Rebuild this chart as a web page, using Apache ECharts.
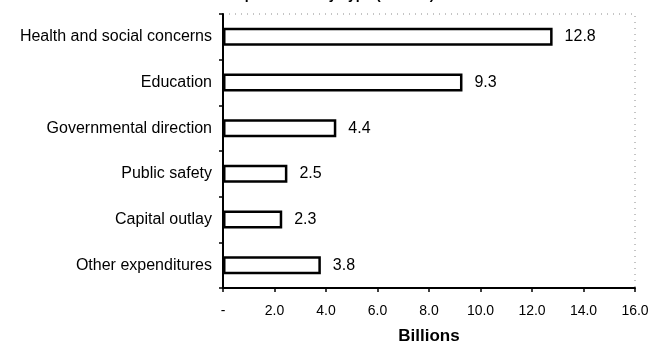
<!DOCTYPE html>
<html>
<head>
<meta charset="utf-8">
<script src="https://cdn.jsdelivr.net/npm/echarts@6/dist/echarts.min.js"></script>
<style>
  html, body { margin: 0; padding: 0; background: #fff; }
  #chart { width: 662px; height: 350px; }
</style>
</head>
<body>
<div id="chart"></div>
<script>
// Spending categories, top to bottom
const categories = [
  'Health and social concerns',
  'Education',
  'Governmental direction',
  'Public safety',
  'Capital outlay',
  'Other expenditures'
];
// Amounts in billions
const amounts = [12.8, 9.3, 4.4, 2.5, 2.3, 3.8];
// X axis range
const axisMin = 0;
const axisMax = 16;
const axisStep = 2;

const chart = echarts.init(document.getElementById('chart'), null, { renderer: 'canvas' });

chart.setOption({
  animation: false,
  backgroundColor: '#ffffff',
  title: {
    text: 'Expenditures by Type (billions)',
    left: 'center',
    top: -17,
    textStyle: { fontFamily: 'Liberation Sans', fontSize: 14, fontWeight: 'bold', color: '#000' }
  },
  grid: {
    left: 223,
    right: 27,
    top: 14,
    bottom: 61,
    show: true,
    borderColor: '#8a8a8a',
    borderWidth: 1,
    borderType: [1, 5]
  },
  xAxis: {
    type: 'value',
    min: axisMin,
    max: axisMax,
    interval: axisStep,
    name: 'Billions',
    nameLocation: 'middle',
    nameGap: 40,
    nameTextStyle: { fontFamily: 'Liberation Sans', fontSize: 17, fontWeight: 'bold', color: '#000' },
    axisLine: { show: true, lineStyle: { color: '#000', width: 2 } },
    axisTick: { show: true, length: 4, lineStyle: { color: '#000', width: 1.5 } },
    splitLine: { show: false },
    axisLabel: {
      margin: 16,
      fontFamily: 'Liberation Sans',
      fontSize: 14,
      color: '#000',
      formatter: v => (v === 0 ? '-' : v.toFixed(1))
    }
  },
  yAxis: {
    type: 'category',
    data: categories,
    inverse: true,
    axisLine: { show: true, lineStyle: { color: '#000', width: 2 } },
    axisTick: { show: true, length: 4, lineStyle: { color: '#000', width: 1.5 } },
    axisLabel: {
      margin: 11,
      fontFamily: 'Liberation Sans',
      fontSize: 16,
      color: '#000'
    }
  },
  series: [{
    type: 'bar',
    data: amounts,
    barWidth: 18,
    itemStyle: {
      color: '#ffffff',
      borderColor: '#000',
      borderWidth: 2.5
    },
    label: {
      show: true,
      position: 'right',
      distance: 12,
      fontFamily: 'Liberation Sans',
      fontSize: 16,
      color: '#000',
      formatter: p => p.value.toFixed(1)
    }
  }]
});
</script>
</body>
</html>
